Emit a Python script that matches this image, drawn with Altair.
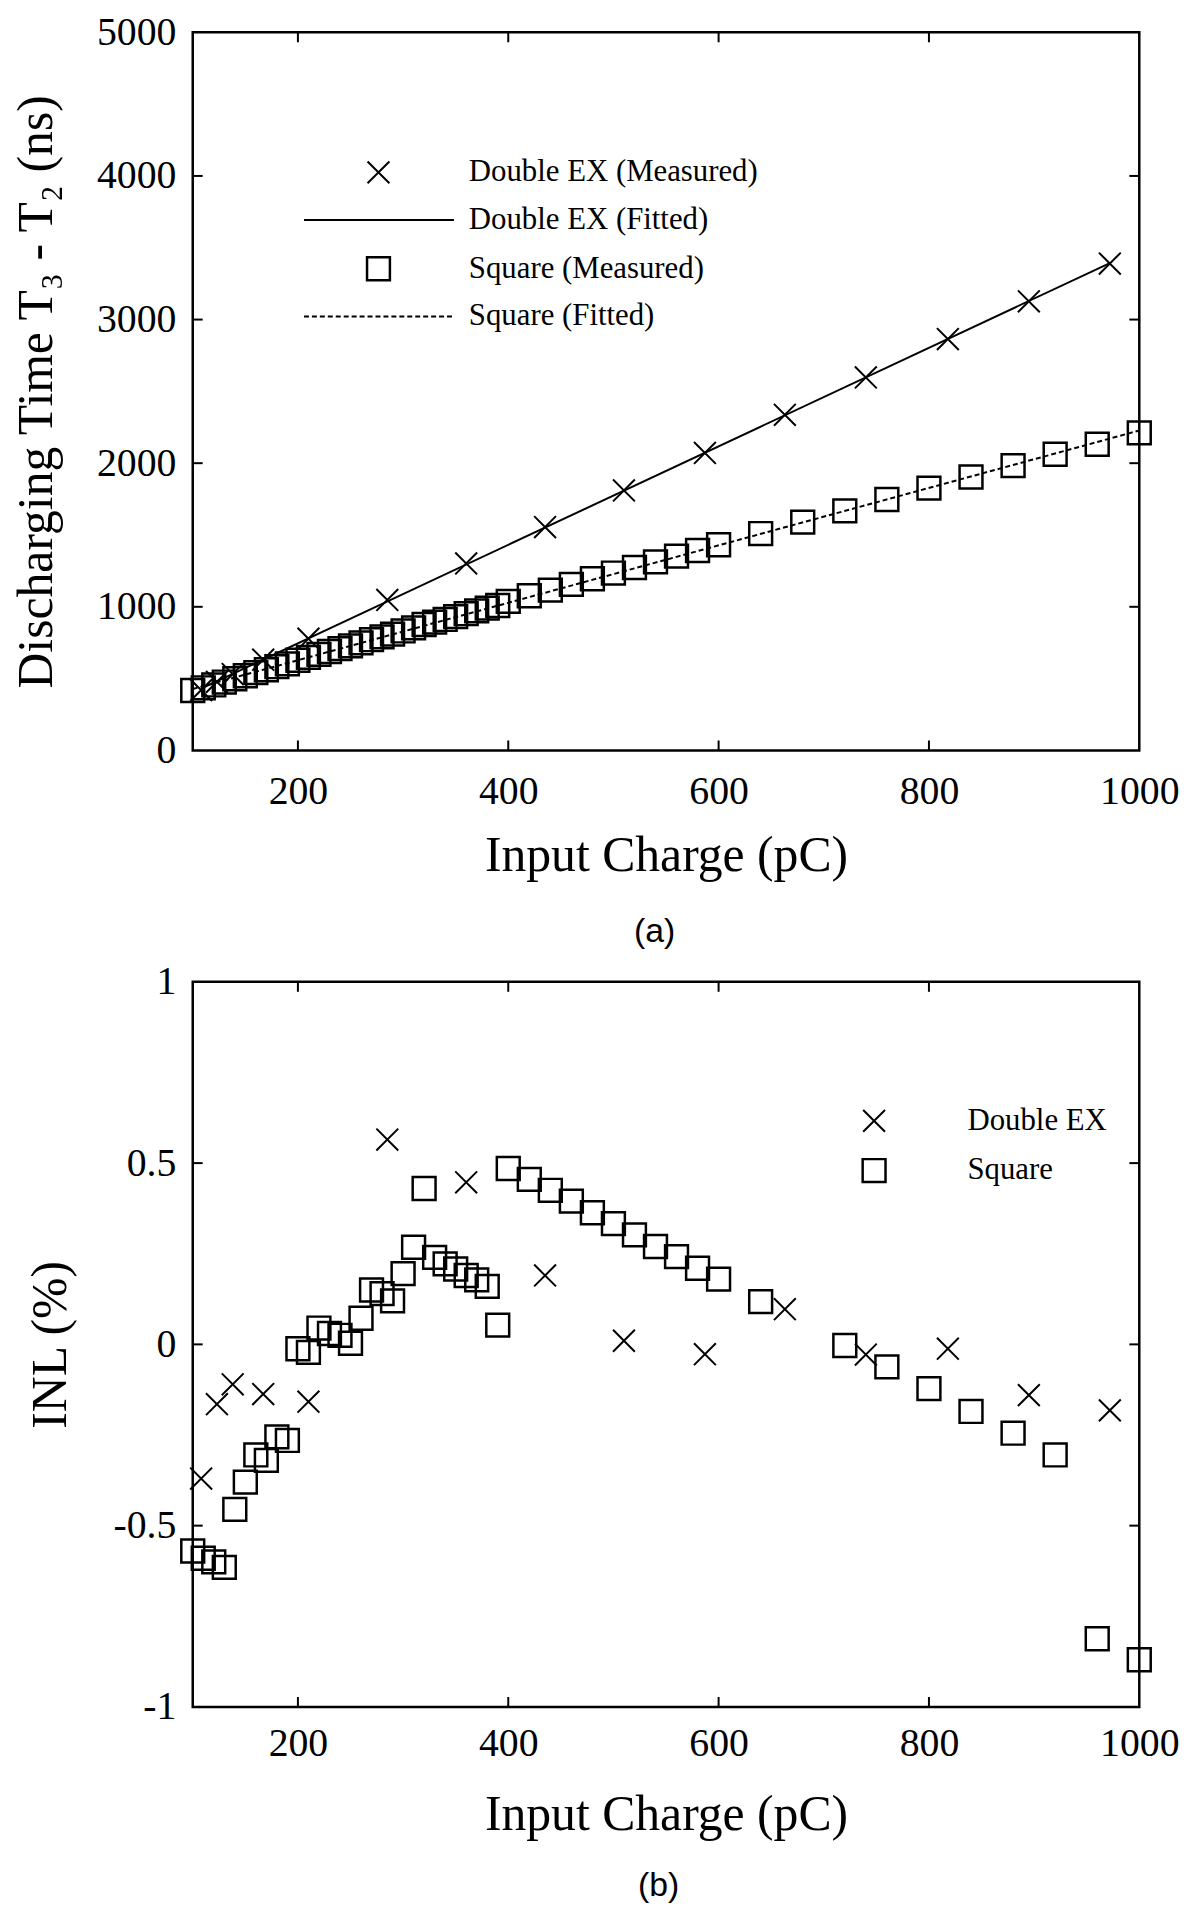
import altair as alt
import pandas as pd

# ---------------- data ----------------
dx_x = [108, 123, 138, 167, 210, 285, 360, 435, 510, 587, 663, 740, 818, 895, 972]
dx_t = [420, 478, 532, 632, 778, 1048, 1302, 1555, 1810, 2071, 2337, 2597, 2864, 3127, 3390]

sq_x = [100, 110, 120, 130, 140, 150, 160, 170, 180, 190,
        200, 210, 220, 230, 240, 250, 260, 270, 280, 290,
        300, 310, 320, 330, 340, 350, 360, 370, 380, 390,
        400, 420, 440, 460, 480, 500, 520, 540, 560, 580,
        600, 640, 680, 720, 760, 800, 840, 880, 920, 960, 1000]
sq_t = [417, 436, 456, 476, 499, 520, 542, 562, 583, 603,
        628, 648, 669, 689, 709, 728, 749, 771, 791, 810,
        832, 853, 877, 893, 912, 932, 952, 972, 991, 1009,
        1038, 1077, 1116, 1156, 1195, 1235, 1274, 1313, 1353, 1392,
        1432, 1510, 1590, 1668, 1747, 1826, 1904, 1983, 2062, 2132, 2211]

dx_inl = [-0.37, -0.165, -0.11, -0.137, -0.158, 0.565, 0.447, 0.19, 0.01, -0.027,
          0.097, -0.028, -0.012, -0.14, -0.182]

sq_inl_x = [100, 110, 120, 130, 140, 150, 160, 170, 180, 190,
            200, 210, 220, 230, 240, 250, 260, 270, 280, 290,
            300, 310, 320, 330, 340, 350, 360, 370, 380, 390,
            400, 420, 440, 460, 480, 500, 520, 540, 560, 580,
            600, 640, 720, 760, 800, 840, 880, 920, 960, 1000]
sq_inl = [-0.57, -0.59, -0.60, -0.615, -0.455, -0.38, -0.305, -0.32, -0.255, -0.265,
          -0.012, -0.022, 0.045, 0.03, 0.025, 0.003, 0.072, 0.15, 0.14, 0.12,
          0.195, 0.268, 0.43, 0.24, 0.222, 0.208, 0.19, 0.178, 0.16, 0.053,
          0.485, 0.455, 0.425, 0.395, 0.363, 0.333, 0.302, 0.27, 0.242, 0.21,
          0.18, 0.118, -0.003, -0.062, -0.122, -0.185, -0.245, -0.305, -0.812, -0.87]

x_labels = [200, 400, 600, 800, 1000]
x_inner_ticks = [200, 400, 600, 800]
top_y_labels = [0, 1000, 2000, 3000, 4000, 5000]
top_y_inner = [1000, 2000, 3000, 4000]
bot_y_labels = [-1, -0.5, 0, 0.5, 1]
bot_y_inner = [-0.5, 0, 0.5]

legend_top = ["Double EX (Measured)", "Double EX (Fitted)", "Square (Measured)", "Square (Fitted)"]
legend_bot = ["Double EX", "Square"]
captions = ["(a)", "(b)"]

# ---------------- style ----------------
SERIF = "Liberation Serif"
SANS = "Liberation Sans"
CROSS = "M-1,-1L1,1M-1,1L1,-1"
W = 953
H1 = 723
H2 = 730

df_dx = pd.DataFrame({"x": dx_x, "t": dx_t})
df_sq = pd.DataFrame({"x": sq_x, "t": sq_t})
df_dxi = pd.DataFrame({"x": dx_x, "v": dx_inl})
df_sqi = pd.DataFrame({"x": sq_inl_x, "v": sq_inl})
one = pd.DataFrame({"a": [0]})


def x_axis(label_pad, title_y):
    return alt.Axis(values=x_labels, title="Input Charge (pC)", format="d", labelFont=SERIF,
                    labelFontSize=40, labelColor="black", labelBaseline="alphabetic",
                    labelPadding=label_pad, labelFlush=False, labelOverlap=False, domain=False,
                    ticks=False, tickSize=0, grid=False, titleFont=SERIF, titleFontSize=50,
                    titleFontWeight="normal", titleColor="black", titleY=title_y,
                    titleBaseline="alphabetic")


def y_axis(values, title, title_x, title_y):
    return alt.Axis(values=values, title=title, labelExpr="toString(datum.value)",
                    labelFont=SERIF, labelFontSize=40, labelColor="black",
                    labelBaseline="middle", labelPadding=17, labelFlush=False,
                    labelOverlap=False, domain=False, ticks=False, tickSize=0, grid=False,
                    titleFont=SERIF, titleFontSize=50, titleFontWeight="normal",
                    titleColor="black", titleAngle=270, titleX=title_x, titleY=title_y,
                    titleBaseline="alphabetic", titleAlign="center")


def frame_ticks(xvals, yvals, yfield_domain, h):
    xs = pd.DataFrame({"x": xvals})
    ys = pd.DataFrame({"y": yvals})
    yscale = alt.Scale(domain=yfield_domain)
    xscale = alt.Scale(domain=[100, 1000])
    bot = alt.Chart(xs).mark_rule(color="black", strokeWidth=2).encode(
        x=alt.X("x:Q", scale=xscale), y=alt.value(h), y2=alt.value(h - 10))
    top = alt.Chart(xs).mark_rule(color="black", strokeWidth=2).encode(
        x=alt.X("x:Q", scale=xscale), y=alt.value(0), y2=alt.value(10))
    left = alt.Chart(ys).mark_rule(color="black", strokeWidth=2).encode(
        y=alt.Y("y:Q", scale=yscale), x=alt.value(0), x2=alt.value(10))
    right = alt.Chart(ys).mark_rule(color="black", strokeWidth=2).encode(
        y=alt.Y("y:Q", scale=yscale), x=alt.value(W - 10), x2=alt.value(W))
    return [bot, top, left, right]


def cross_mark(data):
    return alt.Chart(data).mark_point(shape=CROSS, filled=False, size=484, color="black",
                                      strokeWidth=2, opacity=1)


def square_mark(data):
    return alt.Chart(data).mark_point(shape="square", filled=False, size=530, color="black",
                                      strokeWidth=2.5, opacity=1)


def text_mark(font, size, align="left"):
    return alt.Chart(one).mark_text(font=font, fontSize=size, align=align, baseline="middle",
                                    color="black")


# ---------------- panel (a) ----------------
xs_top = alt.X("x:Q", scale=alt.Scale(domain=[100, 1000]), axis=x_axis(53, 121))
ys_top = alt.Y("t:Q", scale=alt.Scale(domain=[0, 5000]),
               axis=y_axis(top_y_labels, "Discharging Time T₃ - T₂ (ns)", -142, H1 / 2))

fit_dx = alt.Chart(df_dx).transform_regression("x", "t").mark_line(
    color="black", strokeWidth=2).encode(x=xs_top, y=ys_top)
fit_sq = alt.Chart(df_sq).transform_regression("x", "t").mark_line(
    color="black", strokeWidth=2, strokeDash=[5, 3]).encode(x=xs_top, y=ys_top)
pts_dx = cross_mark(df_dx).encode(x=xs_top, y=ys_top)
pts_sq = square_mark(df_sq).encode(x=xs_top, y=ys_top)

rows_a = [141, 189, 238, 286]
leg_a = [
    cross_mark(one).encode(x=alt.value(187), y=alt.value(rows_a[0])),
    alt.Chart(one).mark_rule(color="black", strokeWidth=2).encode(
        x=alt.value(112), x2=alt.value(263), y=alt.value(rows_a[1])),
    square_mark(one).encode(x=alt.value(187), y=alt.value(rows_a[2])),
    alt.Chart(one).mark_rule(color="black", strokeWidth=2, strokeDash=[5, 3]).encode(
        x=alt.value(112), x2=alt.value(263), y=alt.value(rows_a[3])),
]
for lab, ry in zip(legend_top, rows_a):
    leg_a.append(text_mark(SERIF, 31).encode(x=alt.value(278), y=alt.value(ry),
                                              text=alt.value(lab)))
cap_a = text_mark(SANS, 34, "center").encode(x=alt.value(465), y=alt.value(906),
                                             text=alt.value(captions[0]))

panel_a = alt.layer(pts_dx, pts_sq, fit_dx, fit_sq,
                    *frame_ticks(x_inner_ticks, top_y_inner, [0, 5000], H1),
                    *leg_a, cap_a).properties(width=W, height=H1)

# ---------------- panel (b) ----------------
xs_bot = alt.X("x:Q", scale=alt.Scale(domain=[100, 1000]), axis=x_axis(49, 123))
ys_bot = alt.Y("v:Q", scale=alt.Scale(domain=[-1, 1]),
               axis=y_axis(bot_y_labels, "INL (%)", -128, H2 / 2))

pts_dxi = cross_mark(df_dxi).encode(x=xs_bot, y=ys_bot)
pts_sqi = square_mark(df_sqi).encode(x=xs_bot, y=ys_bot)

rows_b = [140, 190]
leg_b = [
    cross_mark(one).encode(x=alt.value(686), y=alt.value(rows_b[0])),
    square_mark(one).encode(x=alt.value(686), y=alt.value(rows_b[1])),
]
for lab, ry in zip(legend_bot, rows_b):
    leg_b.append(text_mark(SERIF, 31).encode(x=alt.value(780), y=alt.value(ry),
                                              text=alt.value(lab)))
cap_b = text_mark(SANS, 34, "center").encode(x=alt.value(469), y=alt.value(910),
                                             text=alt.value(captions[1]))

panel_b = alt.layer(pts_sqi, pts_dxi,
                    *frame_ticks(x_inner_ticks, bot_y_inner, [-1, 1], H2),
                    *leg_b, cap_b).properties(width=W, height=H2)

chart = alt.vconcat(panel_a, panel_b, spacing=233, bounds="flush").properties(
    padding={"left": 2, "top": -4, "right": 0, "bottom": 0},
).configure_view(stroke="black", strokeWidth=2.5)

chart.save("out.html", embed_options={"renderer": "svg", "actions": False})
